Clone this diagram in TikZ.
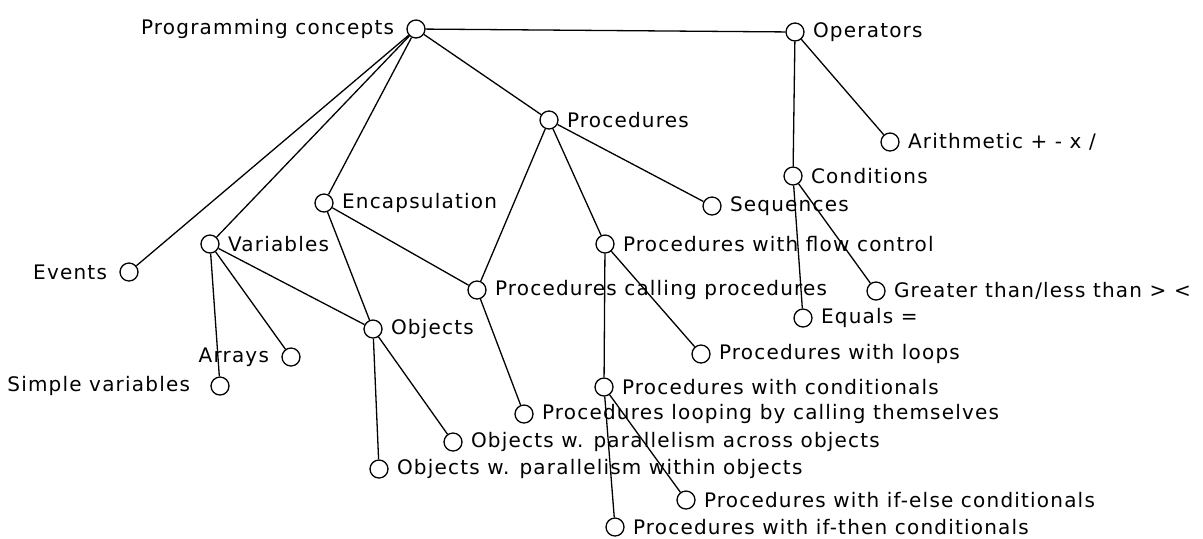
\documentclass[tikz,border=0pt]{standalone}
\usepackage{fontspec}
\setmainfont[LetterSpace=6]{DejaVu Sans}
\usetikzlibrary{calc}

\begin{document}
\begin{tikzpicture}[x=0.5pt, y=-0.5pt,
		dot/.style={circle, draw, line width=0.65pt, minimum size=9pt, inner sep=0pt, fill=white},
		every label/.style={inner sep=1.5pt, font=\fontsize{10}{12}\selectfont},
		txtr/.style={label={[xshift=2.5pt]right:#1}},
		txtl/.style={label={[xshift=-4.5pt]left:#1}},
		edge/.style={line width=0.65pt}]
		%%%%% START %%%%%
		\useasboundingbox (0, 0) rectangle (1203, 538);
		
		\node[dot, txtl=Programming concepts] (prog) at (416, 29) {};
		\node[dot, txtr=Operators] (ops) at (795, 32) {};
		\node[dot, txtr=Procedures] (proc) at (549, 120) {};
		\node[dot, txtr={Arithmetic + - x /}] (arith) at (890, 142) {};
		\node[dot, txtr=Conditions] (cond) at (793, 176) {};
		\node[dot, txtr=Encapsulation] (encap) at (324, 203) {};
		\node[dot, txtr=Sequences] (seq) at (712, 206) {};
		\node[dot, txtr=Variables] (vars) at (210, 244) {};
		\node[dot, txtr=Procedures with flow control] (flow) at (605, 244) {};
		\node[dot, txtl=Events] (events) at (129, 272) {};
		\node[dot, txtr=Procedures calling procedures] (calling) at (477, 290) {};
		\node[dot, txtr={Greater than/less than > <}] (gtlt) at (876, 291) {};
		\node[dot, txtr={Equals =}] (equals) at (803, 318) {};
		\node[dot, txtr=Objects] (objs) at (373, 329) {};
		\node[dot, txtl=Arrays] (arrays) at (291, 357) {};
		\node[dot, txtr=Procedures with loops] (loops) at (701, 354) {};
		\node[dot, label={[xshift=-8.5pt]left:Simple variables}] (simple) at (220, 386) {};
		\node[dot, txtr=Procedures with conditionals] (condl) at (604, 387) {};
		\node[dot, txtr=Procedures looping by calling themselves] (selfcall) at (524, 414) {};
		\node[dot, txtr=Objects w. parallelism across objects] (across) at (453, 442) {};
		\node[dot, txtr=Objects w. parallelism within objects] (within) at (379, 469) {};
		\node[dot, txtr=Procedures with if-else conditionals] (ifelse) at (686, 500) {};
		\node[dot, txtr=Procedures with if-then conditionals] (ifthen) at (615, 527) {};
		
		% top level
		\draw[edge] (prog) -- (ops);
		\draw[edge] (prog) -- (proc);
		\draw[edge] (prog) -- (encap);
		\draw[edge] (prog) -- (vars);
		\draw[edge] (prog) -- (events);
		
		% operators
		\draw[edge] (ops) -- (arith);
		\draw[edge] (ops) -- (cond);
		\draw[edge] (cond) -- (gtlt);
		\draw[edge] (cond) -- (equals);
		
		% procedures
		\draw[edge] (proc) -- (seq);
		\draw[edge] (proc) -- (flow);
		\draw[edge] (proc) -- (calling);
		\draw[edge] (flow) -- (loops);
		\draw[edge] (flow) -- (condl);
		\draw[edge] (condl) -- (ifelse);
		\draw[edge] (condl) -- (ifthen);
		\draw[edge] (calling) -- (selfcall);
		
		% encapsulation and variables
		\draw[edge] (encap) -- (objs);
		\draw[edge] (encap) -- (calling);
		\draw[edge] (vars) -- (arrays);
		\draw[edge] (vars) -- (simple);
		\draw[edge] (vars) -- (objs);
		\draw[edge] (objs) -- (across);
		\draw[edge] (objs) -- (within);
		%%%%% END %%%%%
	\end{tikzpicture}
\end{document}
